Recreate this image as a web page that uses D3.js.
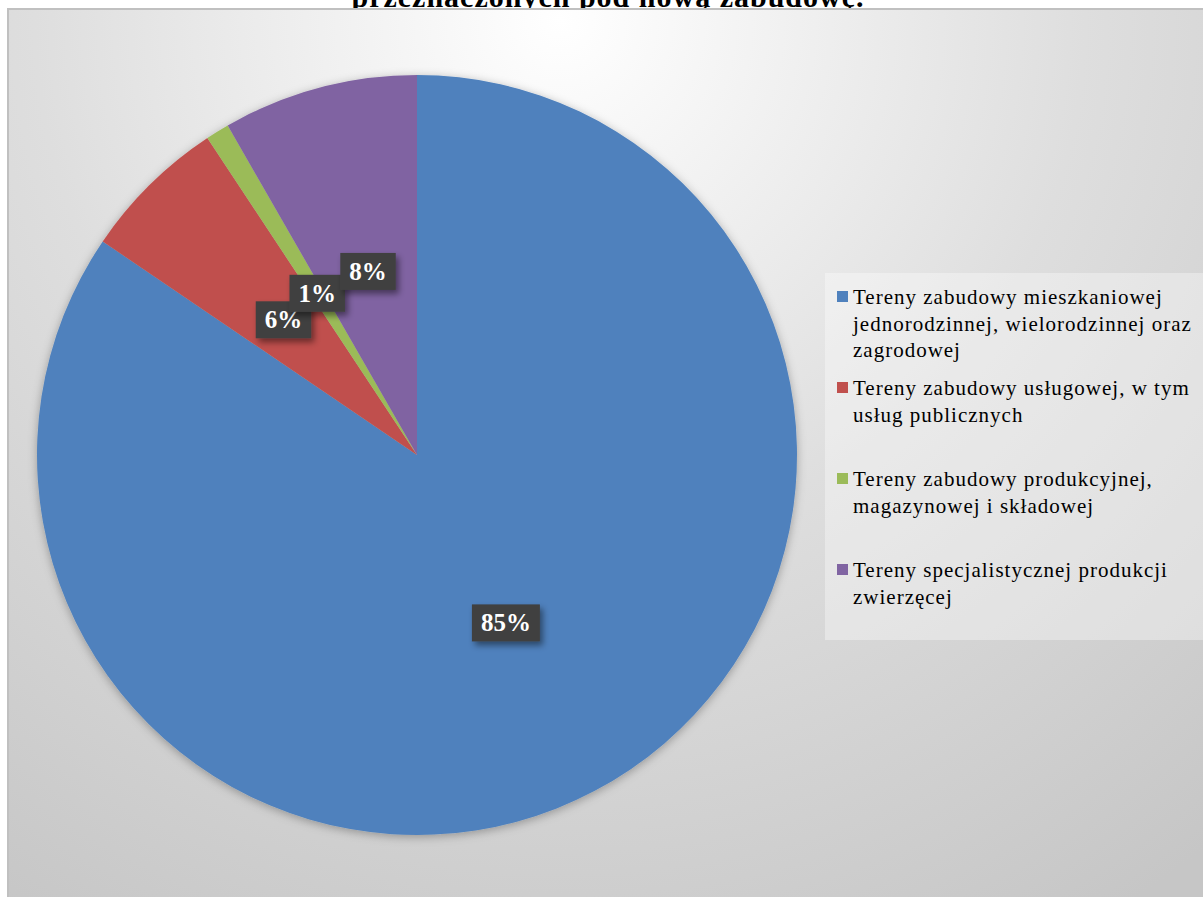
<!DOCTYPE html>
<html>
<head>
<meta charset="utf-8">
<script src="https://cdn.jsdelivr.net/npm/d3@7"></script>
<style>
  html, body { margin: 0; padding: 0; background: #fff; }
  #chart { width: 1203px; height: 897px; }
</style>
</head>
<body>
<div id="chart"></div>
<script>
const titleText = 'przeznaczonych pod nową zabudowę.';

const categories = [
  ['Tereny zabudowy mieszkaniowej', 'jednorodzinnej, wielorodzinnej oraz', 'zagrodowej'],
  ['Tereny zabudowy usługowej, w tym', 'usług publicznych'],
  ['Tereny zabudowy produkcyjnej,', 'magazynowej i składowej'],
  ['Tereny specjalistycznej produkcji', 'zwierzęcej']
];
const values = [84.5, 6.2, 1.0, 8.3];
const percentLabels = ['85%', '6%', '1%', '8%'];
const colors = ['#4f81bd', '#c0504d', '#9bbb59', '#8064a2'];

const serif = 'Liberation Serif, DejaVu Serif, serif';
const frame = Object.freeze({ left: 8, top: 9 });
const pieCenter = Object.freeze({ x: 417, y: 455, r: 380 });
const legendBox = Object.freeze({ x: 825, y: 273, width: 378, height: 367 });

class PieChart {
  constructor (el) {
    this.el = el;
    this.width = 1203;
    this.height = 897;
  }

  createChart () {
    this._createSvgElement();
    this._addDefs();
    this._drawTitle();
    this._drawBackground();
    this._drawSlices();
    this._drawLabels();
    this._drawLegend();
    return this;
  }

  _createSvgElement () {
    this.svg = d3.select(this.el).append('svg')
      .attr('width', this.width)
      .attr('height', this.height);
  }

  _addDefs () {
    const defs = this.svg.append('defs');

    const grad = defs.append('radialGradient')
      .attr('id', 'bg-grad')
      .attr('gradientUnits', 'userSpaceOnUse')
      .attr('cx', 560).attr('cy', 20).attr('r', 1050);
    grad.append('stop').attr('offset', 0).attr('stop-color', '#ffffff');
    grad.append('stop').attr('offset', 0.5).attr('stop-color', '#dedede');
    grad.append('stop').attr('offset', 1).attr('stop-color', '#c6c6c6');

    const pieShadow = defs.append('filter').attr('id', 'pie-shadow')
      .attr('x', '-10%').attr('y', '-10%').attr('width', '120%').attr('height', '120%');
    pieShadow.append('feDropShadow')
      .attr('dx', 0).attr('dy', 2).attr('stdDeviation', 5)
      .attr('flood-color', '#000').attr('flood-opacity', 0.3);

    const boxShadow = defs.append('filter').attr('id', 'box-shadow')
      .attr('x', '-30%').attr('y', '-30%').attr('width', '160%').attr('height', '160%');
    boxShadow.append('feDropShadow')
      .attr('dx', 3).attr('dy', 4).attr('stdDeviation', 3)
      .attr('flood-color', '#000').attr('flood-opacity', 0.45);
  }

  _drawBackground () {
    this.svg.append('rect')
      .attr('x', frame.left)
      .attr('y', frame.top)
      .attr('width', this.width - frame.left)
      .attr('height', this.height - frame.top)
      .attr('fill', 'url(#bg-grad)');

    // thin grey frame on top and left
    this.svg.append('path')
      .attr('d', `M${frame.left},${this.height} V${frame.top} H${this.width}`)
      .attr('fill', 'none')
      .attr('stroke', '#c0c0c0')
      .attr('stroke-width', 2);
  }

  _drawTitle () {
    this.svg.append('text')
      .attr('x', 608)
      .attr('y', 7)
      .attr('text-anchor', 'middle')
      .attr('font-family', serif)
      .attr('font-weight', 'bold')
      .attr('font-size', '30px')
      .attr('letter-spacing', '1px')
      .attr('fill', '#000')
      .text(titleText);
  }

  _drawSlices () {
    this.pie = d3.pie().sort(null).value(d => d);
    this.arc = d3.arc().innerRadius(0).outerRadius(pieCenter.r);
    this.arcs = this.pie(values);

    this.pieLayer = this.svg.append('g')
      .attr('transform', `translate(${pieCenter.x}, ${pieCenter.y})`);

    this.pieLayer.append('g')
      .attr('filter', 'url(#pie-shadow)')
      .selectAll('path')
      .data(this.arcs)
      .join('path')
      .attr('d', this.arc)
      .attr('fill', (d, i) => colors[i]);
  }

  _drawLabels () {
    const labels = this.pieLayer.selectAll('g.label')
      .data(this.arcs)
      .join('g')
      .attr('class', 'label')
      .attr('transform', d => {
        const [cx, cy] = this.arc.centroid(d);
        return `translate(${cx}, ${cy})`;
      });

    labels.append('rect').attr('class', 'box');

    labels.append('text')
      .attr('text-anchor', 'middle')
      .attr('dy', '0.33em')
      .attr('font-family', serif)
      .attr('font-weight', 'bold')
      .attr('font-size', '25px')
      .attr('fill', '#fff')
      .text((d, i) => percentLabels[i]);

    labels.each(function () {
      const g = d3.select(this);
      const w = g.select('text').node().getComputedTextLength() + 18;
      const h = 37;
      g.select('rect')
        .attr('x', -w / 2)
        .attr('y', -h / 2)
        .attr('width', w)
        .attr('height', h)
        .attr('fill', '#404040')
        .attr('filter', 'url(#box-shadow)');
    });
  }

  _drawLegend () {
    const legend = this.svg.append('g').attr('class', 'legend');

    legend.append('rect')
      .attr('x', legendBox.x)
      .attr('y', legendBox.y)
      .attr('width', legendBox.width)
      .attr('height', legendBox.height)
      .attr('fill', '#ffffff')
      .attr('fill-opacity', 0.35);

    const rowY = d3.scalePoint()
      .domain(d3.range(categories.length))
      .range([legendBox.y + 24, legendBox.y + 24 + 91 * (categories.length - 1)]);

    const items = legend.selectAll('g.item')
      .data(categories)
      .join('g')
      .attr('class', 'item')
      .attr('transform', (d, i) => `translate(${legendBox.x + 12}, ${rowY(i)})`);

    items.append('rect')
      .attr('x', 0)
      .attr('y', -6)
      .attr('width', 11)
      .attr('height', 11)
      .attr('fill', (d, i) => colors[i]);

    items.append('text')
      .attr('font-family', serif)
      .attr('font-size', '21px')
      .attr('letter-spacing', '1px')
      .attr('fill', '#000')
      .selectAll('tspan')
      .data(d => d)
      .join('tspan')
      .attr('x', 16)
      .attr('y', (d, i) => 7 + i * 26.5)
      .text(d => d);
  }
}

new PieChart(document.getElementById('chart')).createChart();
</script>
</body>
</html>
